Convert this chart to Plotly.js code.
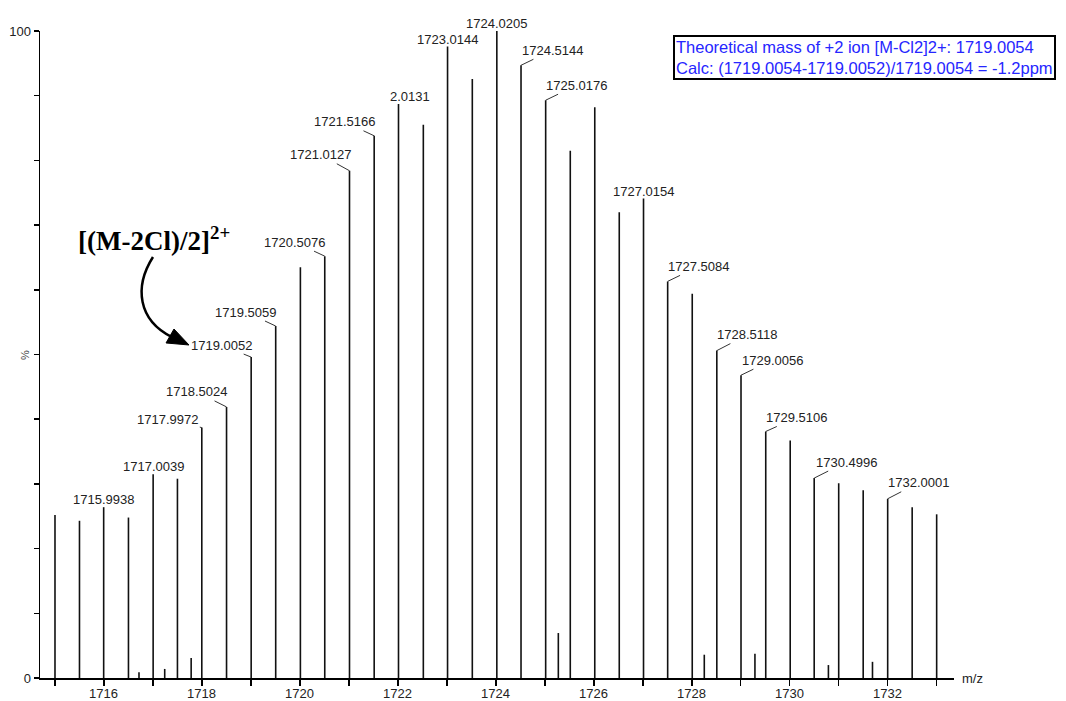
<!DOCTYPE html>
<html>
<head>
<meta charset="utf-8">
<script src="https://cdn.plot.ly/plotly-3.0.1.min.js"></script>
<style>
  html, body { margin: 0; padding: 0; background: #fff; }
  #chart { width: 1066px; height: 701px; }
</style>
</head>
<body>
<div id="chart"></div>
<script>
// ---- Data ----
const majorMz = [1715.00, 1715.50, 1715.9938, 1716.50, 1717.0039, 1717.50, 1717.9972, 1718.5024,
  1719.0052, 1719.5059, 1720.01, 1720.5076, 1721.0127, 1721.5166, 1722.0131, 1722.52,
  1723.0144, 1723.52, 1724.0205, 1724.5144, 1725.0176, 1725.52, 1726.02, 1726.52,
  1727.0154, 1727.5084, 1728.01, 1728.5118, 1729.0056, 1729.5106, 1730.01, 1730.4996,
  1731.00, 1731.50, 1732.0001, 1732.50, 1733.00];
const majorIntensity = [25.2, 24.3, 26.4, 24.8, 31.5, 30.8, 38.7, 41.9,
  49.6, 54.4, 63.5, 65.2, 78.4, 83.8, 88.7, 85.5,
  97.6, 92.6, 100.0, 94.7, 89.3, 81.5, 88.2, 72.0,
  74.1, 61.3, 59.4, 50.6, 46.8, 38.1, 36.7, 30.9,
  30.1, 29.0, 27.7, 26.4, 25.3];
const minorMz = [1716.715, 1717.24, 1717.78, 1725.276, 1728.256, 1729.29, 1730.79, 1731.69];
const minorIntensity = [0.9, 1.4, 3.1, 6.95, 3.6, 3.75, 2.0, 2.5];

const labeledMz = [1715.9938, 1717.0039, 1717.9972, 1718.5024, 1719.0052, 1719.5059, 1720.5076,
  1721.0127, 1721.5166, 1722.0131, 1723.0144, 1724.0205, 1724.5144, 1725.0176,
  1727.0154, 1727.5084, 1728.5118, 1729.0056, 1729.5106, 1730.4996, 1732.0001];
const labelText = ['1715.9938', '1717.0039', '1717.9972', '1718.5024', '1719.0052', '1719.5059', '1720.5076',
  '1721.0127', '1721.5166', '2.0131', '1723.0144', '1724.0205', '1724.5144', '1725.0176',
  '1727.0154', '1727.5084', '1728.5118', '1729.0056', '1729.5106', '1730.4996', '1732.0001'];

const xTickVals = [1715,1716,1717,1718,1719,1720,1721,1722,1723,1724,1725,1726,1727,1728,1729,1730,1731,1732,1733];
const xTickLabelVals = [1716,1718,1720,1722,1724,1726,1728,1730,1732];
const xTickLabelText = ['1716','1718','1720','1722','1724','1726','1728','1730','1732'];
const yTickVals = [0,10,20,30,40,50,60,70,80,90,100];
const yTickText = ['0','','','','','','','','','','100'];

const ionLabel = '<b>[(M-2Cl)/2]<sup>2+</sup></b>';
const infoLines = ['Theoretical mass of +2 ion [M-Cl2]2+: 1719.0054',
                   'Calc: (1719.0054-1719.0052)/1719.0054 = -1.2ppm'];

// ---- Build stick spectrum ----
const sx = [], sy = [];
function addSticks(mz, inten) {
  for (let i = 0; i < mz.length; i++) { sx.push(mz[i], mz[i], null); sy.push(0, inten[i], null); }
}
addSticks(majorMz, majorIntensity);
addSticks(minorMz, minorIntensity);

const trace = {
  type: 'scatter', mode: 'lines', x: sx, y: sy,
  line: { color: '#111', width: 1.6 }, connectgaps: false,
  hoverinfo: 'skip', cliponaxis: false, showlegend: false
};

// ---- Label placement (pixel offsets) ----
const placement = {
  '1715.9938': {above: true}, '1717.0039': {above: true},
  '1717.9972': {ax: -34, ay: -8}, '1718.5024': {ax: -30, ay: -15},
  '1719.0052': {ax: -30, ay: -12}, '1719.5059': {ax: -30, ay: -14},
  '1720.5076': {ax: -30, ay: -14}, '1721.0127': {ax: -29, ay: -16},
  '1721.5166': {ax: -30, ay: -14}, '2.0131': {above: true, dx: 11},
  '1723.0144': {above: true}, '1724.0205': {above: true},
  '1724.5144': {ax: 31, ay: -15}, '1725.0176': {ax: 31, ay: -15},
  '1727.0154': {above: true}, '1727.5084': {ax: 31, ay: -15},
  '1728.5118': {ax: 31, ay: -16}, '1729.0056': {ax: 31, ay: -15},
  '1729.5106': {ax: 31, ay: -14}, '1730.4996': {ax: 32, ay: -16},
  '1732.0001': {ax: 31, ay: -16}
};

const labelFont = { family: 'Liberation Sans, Arial, sans-serif', size: 13, color: '#222' };
const annotations = [];
labeledMz.forEach((mz, i) => {
  const idx = majorMz.indexOf(mz);
  const inten = majorIntensity[idx];
  const p = placement[labelText[i]];
  if (p.above) {
    annotations.push({ x: mz, y: inten, xref: 'x', yref: 'y', text: labelText[i], showarrow: false,
      xanchor: 'center', yanchor: 'bottom', yshift: -2, xshift: p.dx || 0, font: labelFont });
  } else {
    annotations.push({ x: mz, y: inten, xref: 'x', yref: 'y', text: labelText[i], showarrow: true,
      arrowhead: 0, arrowwidth: 1, arrowcolor: '#333', ax: p.ax, ay: p.ay, standoff: 0, font: labelFont });
  }
});

// x tick labels drawn as annotations so they sit snugly under the ticks
const axisFont = { family: 'Liberation Sans, Arial, sans-serif', size: 13, color: '#222' };
xTickLabelVals.forEach((v, i) => {
  annotations.push({ x: v, y: 0, xref: 'x', yref: 'paper', text: xTickLabelText[i], showarrow: false,
    xanchor: 'center', yanchor: 'top', yshift: -6, font: axisFont });
});

// plot-area pixel helpers (plot spans x 40..954, y 31..678)
const L = 40, R = 954, T = 31, B = 678;
const px = x => (x - L) / (R - L);
const py = y => (B - y) / (B - T);
const pp = (x, y) => px(x).toFixed(4) + ',' + py(y).toFixed(4);

annotations.push({ xref: 'paper', yref: 'paper', x: px(76), y: py(239), xanchor: 'left', yanchor: 'middle',
  text: ionLabel, showarrow: false, font: { family: 'Liberation Serif, Times New Roman, serif', size: 27, color: '#000' } });
annotations.push({ xref: 'paper', yref: 'paper', x: px(673), y: py(35), xanchor: 'left', yanchor: 'top',
  text: infoLines.join('<br>'), align: 'left', showarrow: false, bgcolor: '#fff', bordercolor: '#000',
  borderwidth: 2, borderpad: 1, font: { family: 'Liberation Sans, Arial, sans-serif', size: 16.5, color: '#2626ff' } });
annotations.push({ xref: 'paper', yref: 'paper', x: px(960), y: 0, xanchor: 'left', yanchor: 'middle',
  text: 'm/z', showarrow: false, font: { family: 'Liberation Sans, Arial, sans-serif', size: 13, color: '#222' } });
annotations.push({ xref: 'paper', yref: 'paper', x: px(25), y: py(355), xanchor: 'center', yanchor: 'middle',
  text: '%', textangle: -90, showarrow: false, font: { family: 'Liberation Sans, Arial, sans-serif', size: 11, color: '#444' } });

const shapes = [
  { type: 'path', xref: 'paper', yref: 'paper',
    path: 'M' + pp(153, 257) + ' C' + pp(134, 287) + ' ' + pp(138, 320) + ' ' + pp(172, 337),
    line: { color: '#000', width: 2.5 } },
  { type: 'path', xref: 'paper', yref: 'paper',
    path: 'M' + pp(189, 345) + ' L' + pp(166, 343) + ' L' + pp(174, 329) + ' Z',
    fillcolor: '#000', line: { color: '#000', width: 1 } }
];

const layout = {
  width: 1066, height: 701,
  margin: { l: L, r: 1066 - R, t: T, b: 701 - B, pad: 0 },
  paper_bgcolor: '#fff', plot_bgcolor: '#fff',
  showlegend: false,
  xaxis: { range: [1714.694, 1733.354], showgrid: false, zeroline: false, showline: true,
    linecolor: '#000', linewidth: 1.5, ticks: 'outside', ticklen: 6, tickwidth: 1.5, tickcolor: '#000',
    tickmode: 'array', tickvals: xTickVals, showticklabels: false, fixedrange: true },
  yaxis: { range: [0, 100], showgrid: false, zeroline: false, showline: true,
    linecolor: '#000', linewidth: 1.5, ticks: 'outside', ticklen: 5, tickwidth: 1.5, tickcolor: '#000',
    tickmode: 'array', tickvals: yTickVals, ticktext: yTickText, tickfont: axisFont, fixedrange: true },
  annotations: annotations,
  shapes: shapes
};

Plotly.newPlot('chart', [trace], layout, { displayModeBar: false, staticPlot: true });
</script>
</body>
</html>
